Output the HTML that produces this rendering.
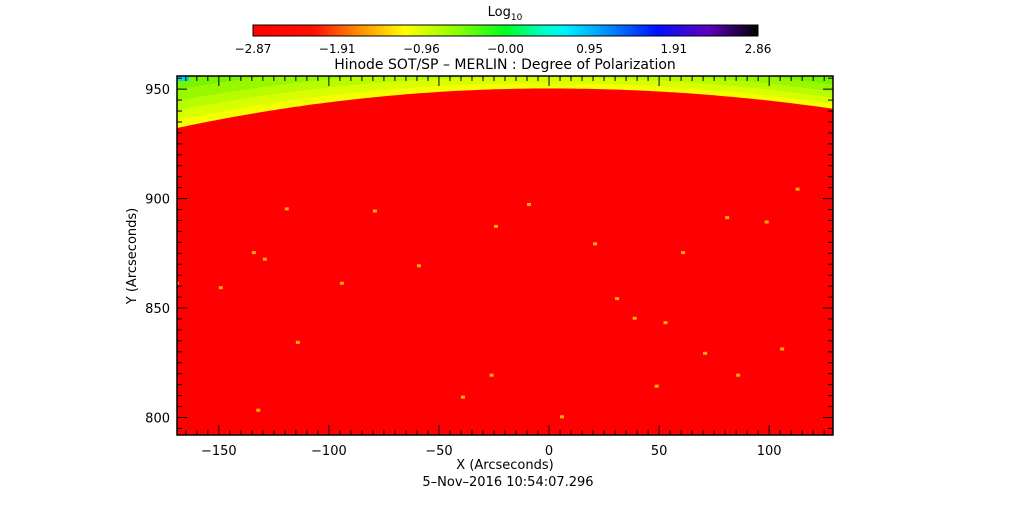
<!DOCTYPE html>
<html><head><meta charset="utf-8"><style>
html,body{margin:0;padding:0;background:#fff;}
svg text{font-family:"DejaVu Sans","Liberation Sans",sans-serif;fill:#000;}
</style></head><body>
<svg id="c" width="1009" height="512" viewBox="0 0 1009 512" xmlns="http://www.w3.org/2000/svg">
<defs>
<linearGradient id="cb" x1="0" x2="1" y1="0" y2="0">
<stop offset="0" stop-color="#ff0000"/><stop offset="0.12" stop-color="#ff1000"/>
<stop offset="0.2" stop-color="#ff8000"/><stop offset="0.3" stop-color="#ffff00"/>
<stop offset="0.4" stop-color="#90ff00"/><stop offset="0.5" stop-color="#00ff20"/>
<stop offset="0.58" stop-color="#00ffd0"/><stop offset="0.62" stop-color="#00f0ff"/>
<stop offset="0.7" stop-color="#0090ff"/><stop offset="0.8" stop-color="#0010ff"/>
<stop offset="0.9" stop-color="#6000c0"/><stop offset="1" stop-color="#000000"/>
</linearGradient>
<clipPath id="pc"><rect x="177" y="76" width="656" height="359"/></clipPath>
</defs>
<text x="505" y="16" font-size="13" text-anchor="middle">Log<tspan font-size="9" dy="4">10</tspan></text>
<rect x="253" y="25" width="505" height="11" fill="url(#cb)" stroke="#000" stroke-width="1"/>
<g id="cbt"></g>
<text x="505" y="69" font-size="14" text-anchor="middle">Hinode SOT/SP – MERLIN : Degree of Polarization</text>
<g clip-path="url(#pc)" id="img"></g>
<rect x="177" y="76" width="656" height="359" fill="none" stroke="#000" stroke-width="1.5"/>
<g id="ax"></g>
<text x="505" y="469" font-size="13" text-anchor="middle">X (Arcseconds)</text>
<text x="508" y="486" font-size="13" text-anchor="middle">5–Nov–2016 10:54:07.296</text>
<text transform="translate(136,256) rotate(-90)" font-size="13" text-anchor="middle">Y (Arcseconds)</text>
</svg>
<script>
const cbLabels=["-2.87","-1.91","-0.96","-0.00","0.95","1.91","2.86"];
const xTicks=[-150,-100,-50,0,50,100];
const yTicks=[800,850,900,950];
const xDomain=[-169,129];
const yDomain=[792,956];
const limbTopY=950.3, limbCurvL=790, limbCurvR=900;
const spotX=[-130,-133,-95,-60,-25,-27,38,52,48,80,98,112,-150,-115,-80,-40,5,20,60,85,-170,-120,-10,30,70,105,-135];
const spotY=[873,804,862,870,888,820,846,844,815,892,890,905,860,835,895,810,801,880,876,820,862,896,898,855,830,832,876];
const NS="http://www.w3.org/2000/svg";
const sx=v=>177+(v-xDomain[0])/(xDomain[1]-xDomain[0])*656;
const sy=v=>435-(v-yDomain[0])/(yDomain[1]-yDomain[0])*359;
function mk(t,a,p){const e=document.createElementNS(NS,t);for(const k in a)e.setAttribute(k,a[k]);p.appendChild(e);return e;}
const cbt=document.getElementById('cbt');
cbLabels.forEach((l,i)=>{const x=253+i*505/6;
 const t=mk('text',{x:x,y:53,'font-size':12,'text-anchor':'middle'},cbt);t.textContent=l.replace('-','−');
 
 });
const img=document.getElementById('img');
mk('rect',{x:177,y:76,width:656,height:359,fill:'#40ec10'},img);
const limbY=x=>limbTopY-x*x/(2*(x<0?limbCurvL:limbCurvR));
function band(off,col){let d='M177,435';for(let x=xDomain[0];x<=xDomain[1];x+=2){const sc=x<0?1+(-x/169)*0.6:1;d+=' L'+sx(x).toFixed(1)+','+(sy(limbY(x))-off*sc).toFixed(1);}d+=' L833,435 Z';
 const p=mk('path',{d:d,fill:col},img);
 
 }
const cols=[[40,'#58f000'],[32,'#78f400'],[24,'#98f800'],[17,'#b8fc00'],[11,'#d8ff00'],[5,'#f4ff00'],[0,'#ff0000']];
cols.forEach(c=>band(c[0],c[1]));
mk('rect',{x:177,y:76,width:12,height:5,fill:'#00d8e8'},img);
spotX.forEach((x,i)=>{const r=mk('rect',{x:sx(x),y:sy(spotY[i]),width:4,height:3,fill:'#ffb000'},img);
 
 });
const ax=document.getElementById('ax');
for(let v=-165;v<=125;v+=5){if(v<xDomain[0])continue;const x=sx(v);const L=v%50===0?10:5;
 mk('line',{x1:x,x2:x,y1:435,y2:435-L,stroke:'#000'},ax);mk('line',{x1:x,x2:x,y1:76,y2:76+L,stroke:'#000'},ax);}
xTicks.forEach(v=>{const t=mk('text',{x:sx(v),y:455,'font-size':13,'text-anchor':'middle'},ax);t.textContent=String(v).replace('-','−');
 
 });
for(let v=795;v<=955;v+=5){const y=sy(v);const L=v%50===0?10:5;
 mk('line',{x1:177,x2:177+L,y1:y,y2:y,stroke:'#000'},ax);mk('line',{x1:833,x2:833-L,y1:y,y2:y,stroke:'#000'},ax);}
yTicks.forEach(v=>{const t=mk('text',{x:170,y:sy(v)+5,'font-size':13,'text-anchor':'end'},ax);t.textContent=v;
 
 });
</script>
</body></html>
